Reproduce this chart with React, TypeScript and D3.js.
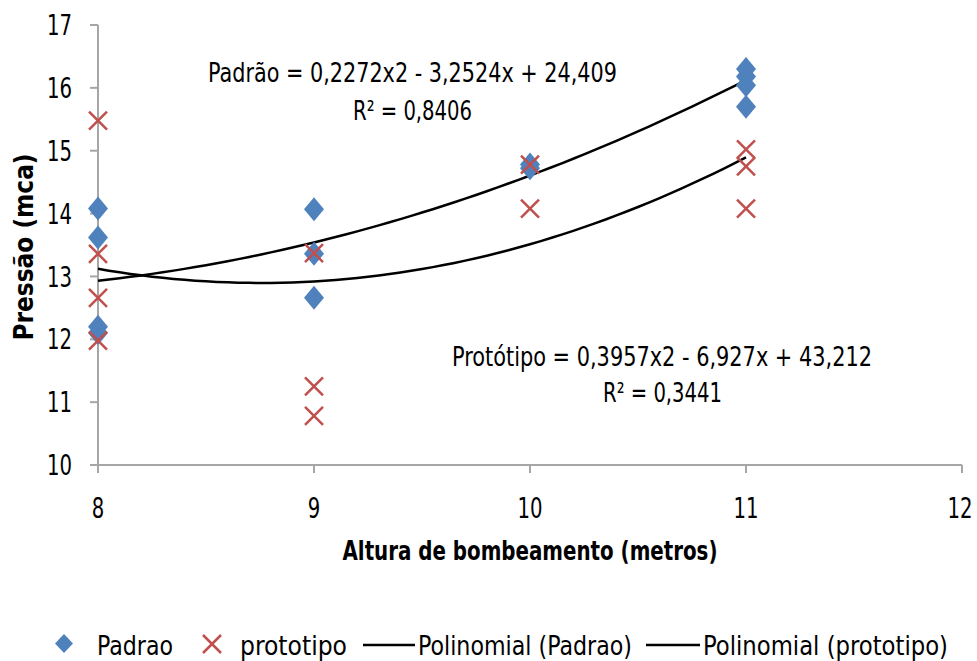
import * as d3 from "d3";

const xTicks = [8, 9, 10, 11, 12];
const yTicks = [10, 11, 12, 13, 14, 15, 16, 17];

const padraoX = [8, 8, 8, 8, 9, 9, 9, 10, 10, 11, 11, 11, 11];
const padraoY = [14.08, 13.62, 12.2, 12.1, 14.07, 13.36, 12.66, 14.78, 14.72, 16.3, 16.18, 16.04, 15.7];

const protoX = [8, 8, 8, 8, 9, 9, 9, 10, 10, 11, 11, 11];
const protoY = [15.48, 13.36, 12.66, 11.98, 13.37, 11.25, 10.78, 14.78, 14.08, 15.02, 14.75, 14.08];

// trend line coefficients [a, b, c] for a*x^2 + b*x + c
const padraoCoef = [0.2272, -3.2524, 24.409];
const protoCoef = [0.3957, -6.927, 43.212];

const font = "'Liberation Sans Narrow', 'DejaVu Sans Condensed', sans-serif";

export default function App() {
  const W = 977, H = 661;
  const x = d3.scaleLinear().domain([8, 12]).range([98, 962]);
  const y = d3.scaleLinear().domain([10, 17]).range([465, 25]);

  const fit = (c: number[]) => {
    const xs = d3.range(8, 11.001, 0.05);
    return d3.line<number>()
      .x((v) => x(v))
      .y((v) => y(c[0] * v * v + c[1] * v + c[2]))(xs) as string;
  };

  const diamond = (cx: number, cy: number, w = 10, h = 12) =>
    `M${cx},${cy - h}L${cx + w},${cy}L${cx},${cy + h}L${cx - w},${cy}Z`;
  const cross = (cx: number, cy: number, s = 9) =>
    `M${cx - s},${cy - s}L${cx + s},${cy + s}M${cx + s},${cy - s}L${cx - s},${cy + s}`;

  const fit2 = { lengthAdjust: "spacingAndGlyphs" } as any;

  return (
    <svg width={W} height={H} style={{ position: "absolute", left: 0, top: 0, background: "#fff" }} fontFamily={font}>
      {/* axes */}
      <line x1={x(8)} x2={x(8)} y1={y(17)} y2={y(10)} stroke="#a6a6a6" strokeWidth={2} />
      <line x1={x(8)} x2={x(12)} y1={y(10)} y2={y(10)} stroke="#a6a6a6" strokeWidth={2} />
      {yTicks.map((t) => (
        <g key={"y" + t}>
          <line x1={x(8) - 8} x2={x(8)} y1={y(t)} y2={y(t)} stroke="#a6a6a6" strokeWidth={2} />
          <text x={x(8) - 26} y={y(t)} dy="0.36em" textAnchor="end" fontSize={28} fill="#000"
            textLength={String(t).length * 12.5} {...fit2}>{t}</text>
        </g>
      ))}
      {xTicks.map((t) => {
        const len = String(t).length * 12.5;
        return (
          <g key={"x" + t}>
            <line x1={x(t)} x2={x(t)} y1={y(10)} y2={y(10) + 8} stroke="#a6a6a6" strokeWidth={2} />
            <text x={(t === 12 ? x(t) - 2 : x(t)) + len / 2} y={y(10) + 53} textAnchor="end" fontSize={28} fill="#000"
              textLength={len} {...fit2}>{t}</text>
          </g>
        );
      })}

      {/* axis titles */}
      <text transform={`translate(33,247) rotate(-90)`} textAnchor="middle" fontSize={26} fontWeight="bold"
        textLength={187} {...fit2}>Pressão (mca)</text>
      <text x={530} y={560} textAnchor="middle" fontSize={26} fontWeight="bold"
        textLength={375} {...fit2}>Altura de bombeamento (metros)</text>

      {/* trend lines */}
      <path d={fit(padraoCoef)} fill="none" stroke="#000" strokeWidth={2.5} />
      <path d={fit(protoCoef)} fill="none" stroke="#000" strokeWidth={2.5} />

      {/* points */}
      {padraoX.map((v, i) => (
        <path key={"p" + i} d={diamond(x(v), y(padraoY[i]))} fill="#4f81bd" />
      ))}
      {protoX.map((v, i) => (
        <path key={"q" + i} d={cross(x(v), y(protoY[i]))} stroke="#c0504d" strokeWidth={2.5} fill="none" />
      ))}

      {/* equations */}
      <text x={208} y={82} fontSize={26} textLength={409} {...fit2}>Padrão = 0,2272x2 - 3,2524x + 24,409</text>
      <text x={353} y={120} fontSize={26} textLength={119} {...fit2}>R² = 0,8406</text>
      <text x={452} y={366} fontSize={26} textLength={420} {...fit2}>Protótipo = 0,3957x2 - 6,927x + 43,212</text>
      <text x={603} y={402} fontSize={26} textLength={119} {...fit2}>R² = 0,3441</text>

      {/* legend */}
      <path d={diamond(64, 643.5, 9, 9.5)} fill="#4f81bd" />
      <text x={97} y={655} fontSize={26} textLength={76} {...fit2}>Padrao</text>
      <path d={cross(212, 644, 9)} stroke="#c0504d" strokeWidth={2.5} fill="none" />
      <text x={240} y={655} fontSize={26} textLength={107} {...fit2}>prototipo</text>
      <line x1={363} x2={415} y1={645} y2={645} stroke="#000" strokeWidth={2.5} />
      <text x={418} y={655} fontSize={26} textLength={214} {...fit2}>Polinomial (Padrao)</text>
      <line x1={646} x2={700} y1={645} y2={645} stroke="#000" strokeWidth={2.5} />
      <text x={703} y={655} fontSize={26} textLength={245} {...fit2}>Polinomial (prototipo)</text>
    </svg>
  );
}
